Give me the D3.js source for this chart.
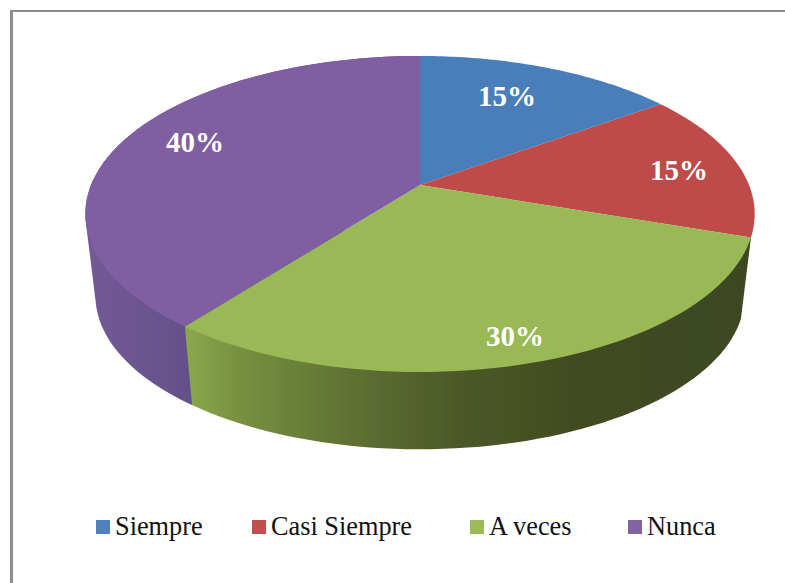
<!DOCTYPE html>
<html><head><meta charset="utf-8">
<script src="https://cdn.jsdelivr.net/npm/d3@7"></script>
<style>html,body{margin:0;padding:0;background:#fff}svg{display:block}</style>
</head><body><svg id="c" width="785" height="583"></svg>
<script>
const categories = ["Siempre","Casi Siempre","A veces","Nunca"];
const values = [15,15,30,40];
const labels = ["15%","15%","30%","40%"];
const topColors = ["#4a7ebb","#be4b48","#98b954","#7f5fa1"];
const legendColors = ["#4f81bd","#c0504d","#9bbb59","#8064a2"];
const labelPos = [[507,106],[679,180],[515,346],[195,152]];
const legendX = [96,252,470,628];

const svg = d3.select("#c");
const W = 785, H = 583;
// frame: only top and left edges are visible in the crop
svg.append("rect").attr("x",10).attr("y",10).attr("width",W).attr("height",2).attr("fill","#8c8c8c");
svg.append("rect").attr("x",10).attr("y",10).attr("width",3).attr("height",H).attr("fill","#8c8c8c");

const k = 0.1835;
function proj(a, cx, cy, b, c){
  const w = (1 - Math.cos(a)) / 2;
  const t = a + 0.035*w*w;
  const X = Math.sin(t), Y = -Math.cos(t), d = 1 - k*Y;
  return [cx + b*X/d, cy + c*Y/d];
}
const topP = a => proj(a,420,185,329,152.7);
const botP = a => proj(a,420,268,319,148);
const pie = d3.pie().sort(null)(values);
const line = d3.line();
const defs = svg.append("defs");
defs.append("filter").attr("id","soft").append("feGaussianBlur").attr("stdDeviation",0.6);

function grad(id, x1, x2, stops){
  const g = defs.append("linearGradient").attr("id",id).attr("gradientUnits","userSpaceOnUse")
    .attr("x1",x1).attr("x2",x2).attr("y1",0).attr("y2",0);
  stops.forEach(s=>g.append("stop").attr("offset",s[0]).attr("stop-color",s[1]));
}
grad("gGreen",186,750,[[0,"#8ba84d"],[0.1,"#768f40"],[0.3,"#5e7033"],[0.5,"#4a5726"],[0.7,"#404b21"],[1,"#3d4720"]]);
grad("gPurple",85,190,[[0,"#735a96"],[1,"#64508a"]]);
const sideFill = {2:"url(#gGreen)",3:"url(#gPurple)"};

function samples(d){
  return d3.range(0,61).map(i=>d.startAngle+(d.endAngle-d.startAngle)*i/60);
}
const pieG = svg.append("g").attr("filter","url(#soft)");
// walls: the two slices whose rim faces the viewer
[3,2].forEach(i=>{
  const s = samples(pie[i]);
  const hull = d3.polygonHull(s.map(topP).concat(s.map(botP)));
  pieG.append("path").attr("d",line(hull)+"Z").attr("fill",sideFill[i]);
});
// top faces
pie.forEach((d,i)=>{
  const pts = [[420,185]].concat(samples(d).map(topP));
  pieG.append("path").attr("d",line(pts)+"Z").attr("fill",topColors[i]);
});
// labels
labels.forEach((t,i)=>{
  svg.append("text").attr("x",labelPos[i][0]).attr("y",labelPos[i][1]).attr("text-anchor","middle")
    .attr("font-family","Liberation Serif").attr("font-weight","bold").attr("font-size",29)
    .attr("fill","#fff").text(t);
});
// legend
categories.forEach((t,i)=>{
  svg.append("rect").attr("x",legendX[i]).attr("y",520).attr("width",14).attr("height",14).attr("fill",legendColors[i]);
  svg.append("text").attr("x",legendX[i]+19).attr("y",535)
    .attr("font-family","Liberation Serif").attr("font-size",26.3).attr("fill","#111").text(t);
});
</script></body></html>
